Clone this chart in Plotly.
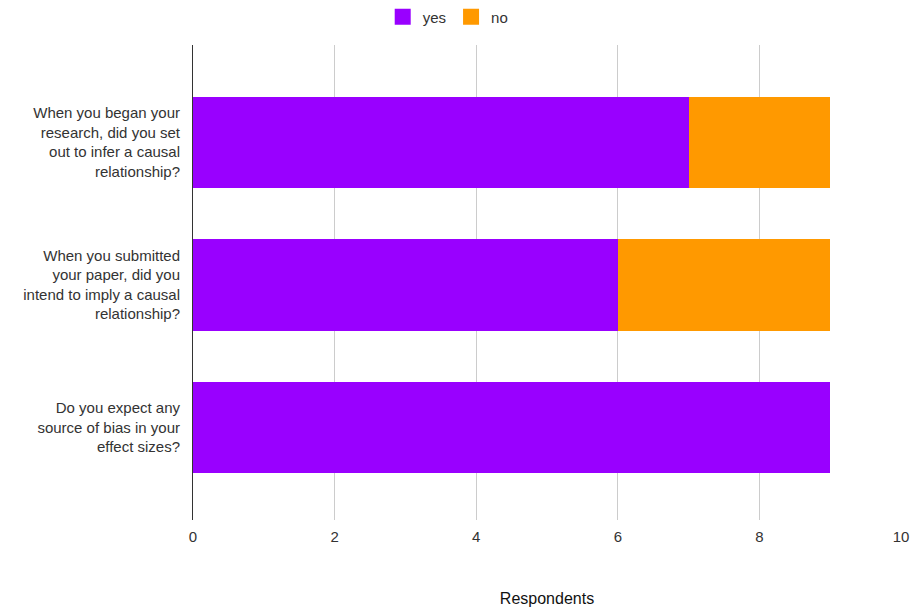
import plotly.graph_objects as go

questions = [
    "When you began your<br>research, did you set<br>out to infer a causal<br>relationship?",
    "When you submitted<br>your paper, did you<br>intend to imply a causal<br>relationship?",
    "Do you expect any<br>source of bias in your<br>effect sizes?",
]
series_names = ["yes", "no"]
series_colors = ["#9900ff", "#ff9900"]
yes_counts = [7, 6, 9]
no_counts = [2, 3, 0]

fig = go.Figure()
for name, color, counts in zip(series_names, series_colors, [yes_counts, no_counts]):
    fig.add_trace(go.Bar(
        y=questions, x=counts, orientation="h", name=name,
        marker=dict(color=color, line=dict(width=0)),
        showlegend=False,
    ))
    # square legend swatches
    fig.add_trace(go.Scatter(
        x=[None], y=[None], mode="markers", name=name,
        marker=dict(symbol="square", size=16, color=color),
    ))

fig.update_layout(
    barmode="stack",
    bargap=0.355,
    width=911, height=611,
    margin=dict(l=193, r=10, t=45, b=91, autoexpand=False),
    paper_bgcolor="white", plot_bgcolor="white",
    font=dict(family="Liberation Sans, Arial, sans-serif", size=15, color="#333"),
    legend=dict(
        orientation="h", xref="container", x=0.492, xanchor="center",
        yref="container", y=0.999, yanchor="top",
        font=dict(size=15, color="#333"), traceorder="normal",
        itemsizing="trace", itemwidth=30,
    ),
    xaxis=dict(
        range=[0, 10], dtick=2, tick0=0,
        showgrid=True, gridcolor="#cccccc", gridwidth=1,
        zeroline=False, showline=False, automargin=False,
        ticks="", ticklabelstandoff=6, tickfont=dict(size=15, color="#333"),
        title=dict(text="Respondents", font=dict(size=16, color="#111"), standoff=48),
    ),
    yaxis=dict(
        categoryorder="array", categoryarray=questions,
        range=[2.649, -0.684], automargin=False,
        showline=True, linecolor="#333333", linewidth=1,
        showgrid=False, ticks="", ticklabelstandoff=9,
        tickfont=dict(size=15, color="#333"),
    ),
)

fig.write_html("out.html")
